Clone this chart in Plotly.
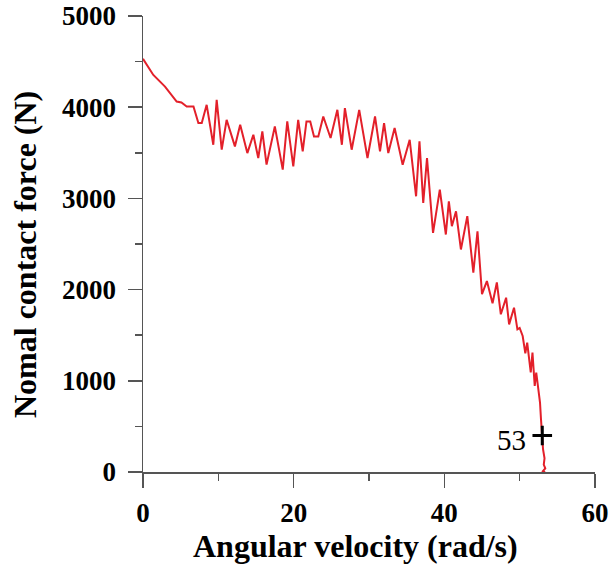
import plotly.graph_objects as go

# Angular velocity (rad/s)
omega = [0, 0.3, 1.37, 2.92, 4.03, 4.47, 5.1, 5.8, 6.7, 7.35, 7.8, 8.45, 9.33, 9.78,
         10.45, 11.1, 12.2, 12.9, 13.85, 14.65, 15.3, 15.84, 16.4, 17.5, 18.55, 19.15,
         19.95, 20.6, 21.2, 21.7, 22.2, 22.7, 23.27, 23.93, 24.9, 25.8, 26.4, 26.8,
         27.7, 28.7, 29.8, 30.8, 31.46, 32.0, 32.56, 33.4, 34.47, 35.4, 36.25, 36.7,
         37.2, 37.7, 38.5, 39.4, 40.2, 40.6, 41.0, 41.55, 42.2, 43.05, 43.85, 44.4,
         45.0, 45.65, 46.4, 46.97, 47.5, 48.2, 48.6, 49.25, 49.7, 50.0, 50.4, 50.75,
         51.0, 51.47, 51.7, 52.0, 52.2, 52.5, 52.7, 52.83, 53.0, 53.1, 53.3, 53.2,
         53.4, 53.0, 53.4]
# Normal contact force (N)
force = [4530, 4490, 4354, 4226, 4099, 4062, 4051, 4008, 4008, 3826, 3826, 4026, 3588, 4081,
         3534, 3862, 3570, 3807, 3497, 3698, 3443, 3734, 3370, 3789, 3315, 3844,
         3351, 3862, 3515, 3844, 3844, 3680, 3680, 3898, 3662, 3971, 3588, 3990,
         3534, 3971, 3443, 3898, 3515, 3826, 3497, 3771, 3370, 3643, 3023, 3625,
         2950, 3443, 2622, 3096, 2604, 2968, 2695, 2859, 2440, 2805, 2185, 2640,
         1950, 2093, 1850, 2078, 1729, 1911, 1619, 1802, 1564, 1580, 1491, 1300,
         1419, 1091, 1309, 944, 1091, 872, 762, 580, 400, 250, 150, 80,
         40, 0, 0]

mark_x = [53]
mark_y = [400]
mark_label = "53"

x_title = "Angular velocity (rad/s)"
y_title = "Nomal contact force (N)"

FONT = "Liberation Serif"

fig = go.Figure()
fig.add_trace(go.Scatter(x=omega, y=force, mode="lines",
                         line=dict(color="#e3202a", width=2),
                         showlegend=False, hoverinfo="skip"))
fig.add_trace(go.Scatter(x=mark_x, y=mark_y, mode="markers",
                         marker=dict(symbol="cross-thin", size=14,
                                     line=dict(color="black", width=3)),
                         showlegend=False, cliponaxis=False, hoverinfo="skip"))
fig.add_annotation(x=mark_x[0], y=mark_y[0], text=mark_label, showarrow=False,
                   xanchor="right", yanchor="middle", xshift=-14, yshift=-4,
                   font=dict(family=FONT, size=29, color="black"))

fig.add_annotation(xref="paper", yref="paper", x=0.471, y=-0.1626, text=x_title,
                   showarrow=False, xanchor="center", yanchor="middle",
                   font=dict(family=FONT, size=32, color="black", weight="bold"))
fig.add_annotation(xref="paper", yref="paper", x=-0.2625, y=0.4766, text=y_title,
                   showarrow=False, xanchor="center", yanchor="middle", textangle=-90,
                   font=dict(family=FONT, size=32, color="black", weight="bold"))

axis_common = dict(showgrid=False, zeroline=False, showline=True, automargin=False,
                   linecolor="#555555", linewidth=1.5, ticks="outside",
                   ticklen=14, tickwidth=1.5, tickcolor="#555555",
                   ticklabeloverflow="allow",
                   tickfont=dict(family=FONT, size=27, color="black", weight="bold"))

fig.update_xaxes(range=[0, 60], dtick=20, tick0=0,
                 minor=dict(dtick=10, ticks="outside", ticklen=7, tickwidth=1.5,
                            tickcolor="#555555"),
                 ticklabelstandoff=2, **axis_common)
fig.update_yaxes(range=[0, 5000], dtick=1000, tick0=0,
                 minor=dict(dtick=500, ticks="outside", ticklen=7, tickwidth=1.5,
                            tickcolor="#555555"),
                 ticklabelstandoff=6, **axis_common)

fig.update_layout(width=610, height=565,
                  margin=dict(l=143, r=15, t=16, b=93),
                  plot_bgcolor="white", paper_bgcolor="white")

# remove the default page margin so the 610x565 figure fills the window exactly
fig.write_html("out.html",
               config={"displayModeBar": False, "staticPlot": True},
               post_script="document.body.style.margin='0';"
                           "document.body.style.overflow='hidden';")
